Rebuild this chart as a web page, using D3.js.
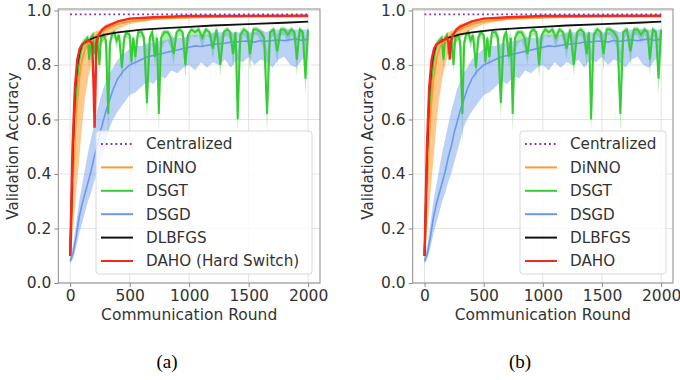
<!DOCTYPE html>
<html>
<head>
<meta charset="utf-8">
<script src="https://cdn.jsdelivr.net/npm/d3@7"></script>
<style>
  body { margin: 0; background: #fff; }
  svg text { font-family: "DejaVu Sans", sans-serif; fill: #333; }
  .caption { font-family: "Liberation Serif", "Times New Roman", serif; font-size: 19px; fill: #000; }
</style>
</head>
<body>
<svg id="chart" width="680" height="380"></svg>
<script>
// ---- data ----
const xTicks = [0, 500, 1000, 1500, 2000];
const yTicks = [0, 0.2, 0.4, 0.6, 0.8, 1.0];
const legendNames = ["Centralized", "DiNNO", "DSGT", "DSGD", "DLBFGS"];

const centralRounds = [0, 2000];
const centralAcc = [0.986, 0.986];

const dinnoRounds = [0, 25, 50, 75, 100, 125, 150, 175, 200, 250, 300, 400, 500, 700, 1000, 1500, 2000];
const dinnoMean   = [0.10, 0.40, 0.62, 0.75, 0.82, 0.86, 0.88, 0.89, 0.90, 0.92, 0.93, 0.95, 0.96, 0.97, 0.975, 0.98, 0.982];
const dinnoLow    = [0.08, 0.20, 0.33, 0.45, 0.58, 0.68, 0.75, 0.80, 0.84, 0.87, 0.90, 0.93, 0.95, 0.965, 0.97, 0.975, 0.978];
const dinnoHigh   = [0.12, 0.60, 0.80, 0.86, 0.88, 0.89, 0.90, 0.91, 0.92, 0.93, 0.95, 0.96, 0.97, 0.975, 0.98, 0.984, 0.986];

const dsgtRounds = [0, 25, 50, 75, 100, 125, 145, 160, 175, 190, 205, 225, 245, 260, 280, 300, 320, 335, 350, 370,
  390, 410, 435, 455, 475, 500, 515, 530, 548, 570, 600, 620, 645, 670, 690, 712, 730, 745, 765, 790,
  820, 845, 870, 895, 920, 945, 968, 990, 1020, 1050, 1080, 1110, 1140, 1170, 1200, 1230, 1262, 1290, 1320, 1345,
  1370, 1390, 1408, 1430, 1460, 1490, 1512, 1540, 1570, 1600, 1630, 1655, 1680, 1710, 1740, 1770, 1800, 1830, 1860, 1885,
  1905, 1930, 1955, 1978, 2000];
const dsgtMean = [0.10, 0.45, 0.70, 0.82, 0.87, 0.89, 0.90, 0.82, 0.90, 0.91, 0.84, 0.91, 0.80, 0.90, 0.91, 0.89, 0.62, 0.88, 0.91, 0.92,
  0.89, 0.91, 0.79, 0.90, 0.92, 0.91, 0.81, 0.90, 0.83, 0.92, 0.92, 0.90, 0.66, 0.90, 0.92, 0.83, 0.90, 0.62, 0.90, 0.92,
  0.92, 0.90, 0.84, 0.92, 0.93, 0.92, 0.80, 0.91, 0.93, 0.92, 0.93, 0.90, 0.93, 0.92, 0.86, 0.93, 0.80, 0.92, 0.93, 0.92,
  0.84, 0.92, 0.60, 0.91, 0.93, 0.92, 0.84, 0.93, 0.93, 0.92, 0.90, 0.62, 0.92, 0.93, 0.85, 0.93, 0.93, 0.91, 0.93, 0.92,
  0.82, 0.93, 0.92, 0.75, 0.93];
const dsgtLow = [0.08, 0.35, 0.62, 0.78, 0.85, 0.87, 0.88, 0.78, 0.88, 0.89, 0.80, 0.89, 0.77, 0.88, 0.89, 0.86, 0.50, 0.85, 0.89, 0.90,
  0.86, 0.89, 0.74, 0.88, 0.90, 0.89, 0.78, 0.88, 0.79, 0.90, 0.90, 0.87, 0.60, 0.88, 0.90, 0.79, 0.87, 0.55, 0.85, 0.88,
  0.89, 0.86, 0.80, 0.90, 0.91, 0.90, 0.75, 0.88, 0.91, 0.90, 0.91, 0.86, 0.91, 0.90, 0.82, 0.91, 0.76, 0.90, 0.91, 0.89,
  0.79, 0.90, 0.55, 0.88, 0.91, 0.89, 0.78, 0.91, 0.91, 0.89, 0.86, 0.55, 0.89, 0.91, 0.80, 0.91, 0.91, 0.88, 0.91, 0.89,
  0.76, 0.91, 0.89, 0.69, 0.90];
const dsgtHigh = [0.12, 0.55, 0.78, 0.86, 0.89, 0.90, 0.91, 0.88, 0.91, 0.92, 0.89, 0.92, 0.88, 0.91, 0.92, 0.91, 0.86, 0.90, 0.92, 0.93,
  0.91, 0.92, 0.88, 0.92, 0.93, 0.92, 0.89, 0.91, 0.89, 0.93, 0.93, 0.92, 0.86, 0.92, 0.93, 0.90, 0.92, 0.85, 0.92, 0.93,
  0.93, 0.92, 0.90, 0.93, 0.94, 0.93, 0.89, 0.92, 0.94, 0.93, 0.94, 0.92, 0.94, 0.93, 0.91, 0.94, 0.90, 0.93, 0.94, 0.93,
  0.91, 0.93, 0.84, 0.93, 0.94, 0.93, 0.91, 0.94, 0.94, 0.93, 0.92, 0.85, 0.93, 0.94, 0.91, 0.94, 0.94, 0.93, 0.94, 0.93,
  0.90, 0.94, 0.93, 0.90, 0.94];

const dsgdRounds = [0, 25, 50, 75, 100, 125, 150, 175, 200, 225, 250, 275, 300, 330, 360, 400, 450, 500, 550, 600,
  650, 700, 750, 800, 850, 900, 950, 1000, 1050, 1100, 1150, 1200, 1250, 1300, 1350, 1400, 1450, 1500, 1550, 1600,
  1650, 1700, 1750, 1800, 1850, 1900, 1950, 2000];
const dsgdMean = [0.08, 0.11, 0.17, 0.24, 0.29, 0.33, 0.37, 0.41, 0.46, 0.50, 0.55, 0.59, 0.63, 0.67, 0.71, 0.75, 0.78, 0.80, 0.81, 0.82,
  0.83, 0.835, 0.84, 0.845, 0.85, 0.855, 0.86, 0.865, 0.87, 0.868, 0.872, 0.875, 0.878, 0.88, 0.884, 0.885, 0.887, 0.888, 0.884, 0.89,
  0.887, 0.89, 0.892, 0.889, 0.893, 0.895, 0.89, 0.895];
const dsgdLow = [0.07, 0.09, 0.13, 0.18, 0.22, 0.26, 0.30, 0.33, 0.37, 0.40, 0.44, 0.48, 0.52, 0.57, 0.60, 0.63, 0.66, 0.69, 0.70, 0.72,
  0.74, 0.73, 0.76, 0.75, 0.78, 0.77, 0.79, 0.80, 0.78, 0.81, 0.79, 0.81, 0.80, 0.82, 0.79, 0.82, 0.81, 0.83, 0.80, 0.82,
  0.81, 0.79, 0.82, 0.83, 0.80, 0.79, 0.82, 0.84];
const dsgdHigh = [0.10, 0.14, 0.22, 0.30, 0.36, 0.42, 0.48, 0.53, 0.58, 0.63, 0.67, 0.71, 0.74, 0.77, 0.79, 0.82, 0.84, 0.86, 0.87, 0.87,
  0.88, 0.88, 0.89, 0.89, 0.90, 0.90, 0.90, 0.91, 0.91, 0.91, 0.91, 0.92, 0.92, 0.92, 0.92, 0.92, 0.92, 0.92, 0.92, 0.93,
  0.92, 0.93, 0.93, 0.93, 0.93, 0.93, 0.93, 0.93];

const dlbfgsRounds = [0, 20, 40, 60, 80, 100, 150, 200, 300, 400, 600, 800, 1000, 1200, 1500, 1800, 2000];
const dlbfgsAcc    = [0.10, 0.45, 0.70, 0.80, 0.85, 0.875, 0.89, 0.90, 0.912, 0.92, 0.93, 0.935, 0.94, 0.945, 0.95, 0.955, 0.959];

// (a) DAHO with hard switch: sharp drop around round 205
const dahoARounds = [0, 20, 40, 60, 80, 100, 130, 160, 185, 195, 205, 212, 220, 240, 270, 300, 350, 400, 500, 700, 1000, 1500, 2000];
const dahoAAcc    = [0.10, 0.50, 0.72, 0.82, 0.86, 0.875, 0.885, 0.89, 0.88, 0.75, 0.57, 0.70, 0.88, 0.91, 0.93, 0.94, 0.95, 0.96, 0.97, 0.975, 0.98, 0.98, 0.98];
// (b) DAHO: only a small dip
const dahoBRounds = [0, 20, 40, 60, 80, 100, 130, 160, 190, 205, 215, 225, 240, 270, 300, 350, 400, 500, 700, 1000, 1500, 2000];
const dahoBAcc    = [0.10, 0.50, 0.72, 0.82, 0.86, 0.875, 0.885, 0.89, 0.90, 0.88, 0.82, 0.89, 0.91, 0.93, 0.94, 0.95, 0.96, 0.97, 0.975, 0.98, 0.98, 0.98];

const colors = {
    central: "#7b2fb8",
    dinno: "#ff9a30",
    dsgt: "#36cc36",
    dsgd: "#6a98ec",
    dlbfgs: "#111111",
    daho: "#f42a1e"
};

const zip = (xs, ...cols) => xs.map((x, i) => [x, ...cols.map(c => c[i])]);

const svg = d3.select("#chart");

function drawPanel(params) {
    const { left, right, top, bottom, dahoRounds, dahoAcc, dahoLabel, legendLeft, legendRight, caption, captionX, id } = params;

    const x = d3.scaleLinear().domain([-100, 2100]).range([left, right]);
    const y = d3.scaleLinear().domain([0, 1.0055]).range([bottom, top]);

    const g = svg.append("g");

    g.append("clipPath").attr("id", `clip-${id}`)
        .append("rect")
        .attr("x", left).attr("y", top)
        .attr("width", right - left).attr("height", bottom - top);

    // grid
    g.append("g").selectAll("line").data(xTicks).join("line")
        .attr("x1", d => x(d)).attr("x2", d => x(d))
        .attr("y1", top).attr("y2", bottom)
        .attr("stroke", "#e3e3e3").attr("stroke-width", 1);
    g.append("g").selectAll("line").data(yTicks).join("line")
        .attr("y1", d => y(d)).attr("y2", d => y(d))
        .attr("x1", left).attr("x2", right)
        .attr("stroke", "#e3e3e3").attr("stroke-width", 1);

    const plot = g.append("g").attr("clip-path", `url(#clip-${id})`);

    const line = d3.line().x(d => x(d[0])).y(d => y(d[1]));
    const area = d3.area().x(d => x(d[0])).y0(d => y(d[1])).y1(d => y(d[2]));

    // bands
    plot.append("path").datum(zip(dinnoRounds, dinnoLow, dinnoHigh))
        .attr("d", area).attr("fill", colors.dinno).attr("fill-opacity", 0.55);
    plot.append("path").datum(zip(dsgtRounds, dsgtLow, dsgtHigh))
        .attr("d", area).attr("fill", colors.dsgt).attr("fill-opacity", 0.4);
    plot.append("path").datum(zip(dsgdRounds, dsgdLow, dsgdHigh))
        .attr("d", area).attr("fill", colors.dsgd).attr("fill-opacity", 0.45);

    // lines
    plot.append("path").datum(zip(dsgdRounds, dsgdMean))
        .attr("d", line).attr("fill", "none").attr("stroke", colors.dsgd).attr("stroke-width", 1.6);
    plot.append("path").datum(zip(dsgtRounds, dsgtMean))
        .attr("d", line).attr("fill", "none").attr("stroke", colors.dsgt).attr("stroke-width", 2);
    plot.append("path").datum(zip(dinnoRounds, dinnoMean))
        .attr("d", line).attr("fill", "none").attr("stroke", colors.dinno).attr("stroke-width", 2);
    plot.append("path").datum(zip(dlbfgsRounds, dlbfgsAcc))
        .attr("d", line).attr("fill", "none").attr("stroke", colors.dlbfgs).attr("stroke-width", 1.8);
    plot.append("path").datum(zip(dahoRounds, dahoAcc))
        .attr("d", line).attr("fill", "none").attr("stroke", colors.daho).attr("stroke-width", 2.4);
    plot.append("path").datum(zip(centralRounds, centralAcc))
        .attr("d", line).attr("fill", "none").attr("stroke", colors.central)
        .attr("stroke-width", 1.8).attr("stroke-dasharray", "1.8,3");

    // frame
    g.append("rect")
        .attr("x", left).attr("y", top)
        .attr("width", right - left).attr("height", bottom - top)
        .attr("fill", "none").attr("stroke", "#8a8a8a").attr("stroke-width", 1);

    // axes
    const xAxis = g.append("g").attr("transform", `translate(0,${bottom})`)
        .call(d3.axisBottom(x).tickValues(xTicks).tickFormat(d3.format("d")).tickSize(4).tickPadding(3));
    const yAxis = g.append("g").attr("transform", `translate(${left},0)`)
        .call(d3.axisLeft(y).tickValues(yTicks).tickFormat(d3.format(".1f")).tickSize(4).tickPadding(3));
    [xAxis, yAxis].forEach(a => {
        a.select(".domain").remove();
        a.selectAll(".tick line").attr("stroke", "#8a8a8a");
        a.selectAll(".tick text").attr("font-size", 15.5).style("fill", "#333");
    });

    g.append("text")
        .attr("x", (x(-100) + x(2100)) / 2).attr("y", 320)
        .attr("text-anchor", "middle").attr("font-size", 15.5)
        .text("Communication Round");
    g.append("text")
        .attr("transform", `translate(${left - 40},${(top + bottom) / 2}) rotate(-90)`)
        .attr("text-anchor", "middle").attr("font-size", 15)
        .text("Validation Accuracy");

    // legend
    const legendTop = 131, legendBottom = 274;
    const lg = g.append("g");
    lg.append("rect")
        .attr("x", legendLeft).attr("y", legendTop)
        .attr("width", legendRight - legendLeft).attr("height", legendBottom - legendTop)
        .attr("rx", 3)
        .attr("fill", "#fff").attr("fill-opacity", 0.82)
        .attr("stroke", "#d8d8d8").attr("stroke-width", 1);

    const entries = [
        { name: legendNames[0], color: colors.central, dash: "1.8,3" },
        { name: legendNames[1], color: colors.dinno },
        { name: legendNames[2], color: colors.dsgt },
        { name: legendNames[3], color: colors.dsgd },
        { name: legendNames[4], color: colors.dlbfgs },
        { name: dahoLabel, color: colors.daho }
    ];
    const rowY = d3.scaleLinear().domain([0, 5]).range([144, 261]);
    const rows = lg.selectAll("g").data(entries).join("g")
        .attr("transform", (d, i) => `translate(${legendLeft},${rowY(i)})`);
    rows.append("line")
        .attr("x1", 5).attr("x2", 37)
        .attr("stroke", d => d.color).attr("stroke-width", 2)
        .attr("stroke-dasharray", d => d.dash || null);
    rows.append("text")
        .attr("x", 50).attr("dy", "0.36em")
        .attr("font-size", 15.2)
        .text(d => d.name);

    svg.append("text").attr("class", "caption")
        .attr("x", captionX).attr("y", 368)
        .attr("text-anchor", "middle")
        .text(caption);
}

drawPanel({
    id: "a", left: 58.3, right: 320, top: 9, bottom: 283,
    dahoRounds: dahoARounds, dahoAcc: dahoAAcc, dahoLabel: "DAHO (Hard Switch)",
    legendLeft: 96, legendRight: 312, caption: "(a)", captionX: 167
});
drawPanel({
    id: "b", left: 412.7, right: 673, top: 9, bottom: 283,
    dahoRounds: dahoBRounds, dahoAcc: dahoBAcc, dahoLabel: "DAHO",
    legendLeft: 520, legendRight: 666, caption: "(b)", captionX: 520
});
</script>
</body>
</html>
